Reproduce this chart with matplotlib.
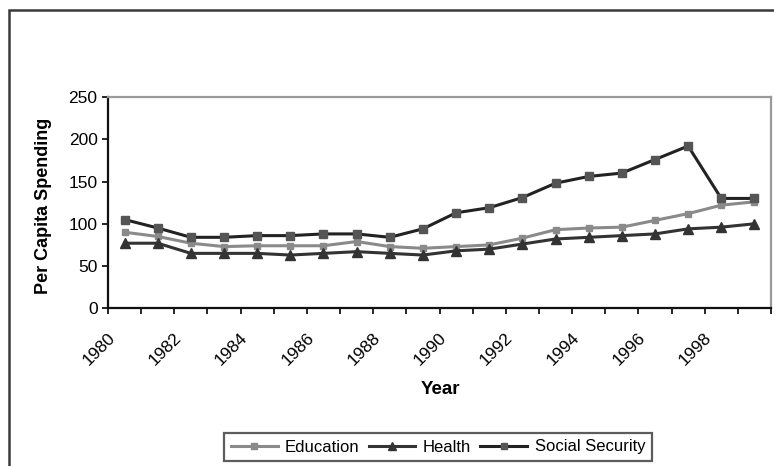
import matplotlib
matplotlib.use('Agg')
import matplotlib.pyplot as plt
from matplotlib.patches import Rectangle
from matplotlib.transforms import ScaledTranslation

plt.rcParams['font.family'] = ['Liberation Sans', 'DejaVu Sans']

# data
years = list(range(1980, 2000))
education = [90, 85, 77, 73, 74, 74, 74, 79, 73, 71,
             73, 75, 83, 93, 95, 96, 104, 112, 122, 126]
health = [77, 77, 65, 65, 65, 63, 65, 67, 65, 63,
          68, 70, 76, 82, 84, 86, 88, 94, 96, 100]
social_security = [105, 95, 84, 84, 86, 86, 88, 88, 84, 94,
                   113, 119, 131, 148, 156, 160, 176, 192, 130, 130]
tick_labels = [str(y) for y in years[::2]]

fig = plt.figure(figsize=(7.74, 4.66), dpi=100)
# outer chart border (runs off the right and bottom edge)
fig.patches.append(Rectangle((9 / 774, -0.05), 1.0, 1 - 10 / 466 + 0.05,
                             transform=fig.transFigure, fill=False,
                             edgecolor='#3a3a3a', linewidth=1.8))

ax = fig.add_axes([108 / 774, 1 - 308.3 / 466, (771 - 108) / 774, (308.3 - 97) / 466])
x = list(range(len(years)))

ax.plot(x, education, color='#8a8a8a', linewidth=2.2, marker='s', markersize=5,
        markerfacecolor='#8a8a8a', markeredgecolor='#8a8a8a', label='Education')
ax.plot(x, health, color='#333333', linewidth=2.2, marker='^', markersize=7.5,
        markerfacecolor='#333333', markeredgecolor='#333333', label='Health')
ax.plot(x, social_security, color='#222222', linewidth=2.2, marker='s', markersize=6,
        markerfacecolor='#555555', markeredgecolor='#555555', label='Social Security')

ax.set_xlim(-0.5, len(years) - 0.5)
ax.set_ylim(0, 250)
ax.set_yticks([0, 50, 100, 150, 200, 250])
# ticks between categories, labels on every other category
ax.set_xticks([i - 0.5 for i in range(len(years) + 1)])
ax.set_xticklabels([])
ax.set_xticks(x[::2], minor=True)
ax.set_xticklabels(tick_labels, minor=True, rotation=45, ha='right', va='center',
                   rotation_mode='anchor', fontsize=12.5)
ax.tick_params(axis='x', which='minor', length=0, pad=0)
ax.tick_params(axis='x', which='major', length=4, direction='out', width=1.2)
ax.tick_params(axis='y', length=4, direction='out', width=1.2, labelsize=12.5, pad=3.5)
shift = ScaledTranslation(-12 / 100, -27 / 100, fig.dpi_scale_trans)
for lab in ax.get_xticklabels(minor=True):
    lab.set_transform(lab.get_transform() + shift)

for side in ['top', 'right']:
    ax.spines[side].set_color('#999999')
    ax.spines[side].set_linewidth(1.6)
for side in ['left', 'bottom']:
    ax.spines[side].set_color('#111111')
    ax.spines[side].set_linewidth(1.6)

fig.text(44 / 774, 1 - 206 / 466, 'Per Capita Spending', fontsize=13,
         fontweight='bold', rotation=90, ha='center', va='center')
fig.text(440 / 774, 1 - 390 / 466, 'Year', fontsize=13.5, fontweight='bold',
         ha='center', va='center')

leg = fig.legend(loc='center', bbox_to_anchor=(438 / 774, 1 - 447 / 466), ncol=3,
                 fontsize=12, frameon=True, fancybox=False, edgecolor='#333333',
                 handlelength=2.8, handletextpad=0.45, columnspacing=0.55,
                 borderpad=0.4, markerscale=0.8)
leg.get_frame().set_linewidth(1.6)

fig.savefig('out.png', dpi=100)
